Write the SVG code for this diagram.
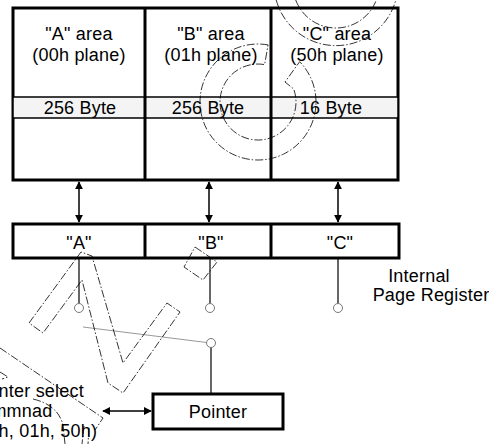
<svg xmlns="http://www.w3.org/2000/svg" width="489" height="444" viewBox="0 0 489 444">
<style>
text{font-family:"Liberation Sans",Arial,Helvetica,sans-serif;font-size:18px;letter-spacing:0.2px;fill:#000}
.c{text-anchor:middle}
.box{fill:#fff;stroke:#000;stroke-width:3}
.thin{stroke:#000;stroke-width:1.2;fill:none}
.arr{stroke:#000;stroke-width:1.5;fill:none;marker-start:url(#ah);marker-end:url(#ah)}
.dot{fill:#fff;stroke:#777;stroke-width:1}
.dash{fill:none;stroke:#000;stroke-width:0.8;stroke-dasharray:8 2 1.5 2}
</style>
<defs>
<marker id="ah" viewBox="0 0 10 10" refX="9" refY="5" markerWidth="8" markerHeight="8" markerUnits="userSpaceOnUse" orient="auto-start-reverse">
<path d="M0,0 L10,5 L0,10 Z" fill="#000"/>
</marker>
</defs>
<rect width="489" height="444" fill="#fff"/>

<g id="memory">
<rect class="box" x="13" y="8" width="385" height="172"/>
<rect x="13" y="97" width="385" height="21" fill="#f4f4f4" stroke="#000" stroke-width="1.5"/>
<line x1="145" y1="8" x2="145" y2="180" stroke="#000" stroke-width="3"/>
<line x1="271" y1="8" x2="271" y2="180" stroke="#000" stroke-width="3"/>
</g>
<g id="areaA">
<text class="c" x="79" y="40">"A" area</text>
<text class="c" x="79" y="61">(00h plane)</text>
<text class="c" x="80" y="114">256 Byte</text>
</g>
<g id="areaB">
<text class="c" x="211" y="40">"B" area</text>
<text class="c" x="211" y="61">(01h plane)</text>
<text class="c" x="208" y="114">256 Byte</text>
</g>
<g id="areaC">
<text class="c" x="337" y="40">"C" area</text>
<text class="c" x="337" y="61">(50h plane)</text>
<text class="c" x="331" y="114">16 Byte</text>
</g>

<g id="register">
<rect class="box" x="13" y="224" width="386" height="34"/>
<line x1="145" y1="224" x2="145" y2="258" stroke="#000" stroke-width="3"/>
<line x1="271" y1="224" x2="271" y2="258" stroke="#000" stroke-width="3"/>
<text class="c" x="79" y="249">"A"</text>
<text class="c" x="211" y="249">"B"</text>
<text class="c" x="340" y="249">"C"</text>
</g>
<g id="register-label">
<text class="c" x="419" y="282">Internal</text>
<text class="c" x="431" y="301">Page Register</text>
</g>

<g id="pointer">
<rect class="box" x="153" y="394" width="130" height="35"/>
<text class="c" x="218" y="418">Pointer</text>
</g>
<g id="command">
<text x="-28" y="397">Pointer select</text>
<text x="-28" y="417">commnad</text>
<text x="-28" y="437">(00h, 01h, 50h)</text>
</g>

<g id="connectors">
<line class="arr" x1="79" y1="182" x2="79" y2="222"/>
<line class="arr" x1="209" y1="182" x2="209" y2="222"/>
<line class="arr" x1="338" y1="182" x2="338" y2="222"/>
<line class="arr" x1="103" y1="411" x2="151" y2="411"/>
<line class="thin" x1="79" y1="258" x2="79" y2="303.5"/>
<line class="thin" x1="210" y1="258" x2="210" y2="303.5"/>
<line class="thin" x1="338" y1="258" x2="338" y2="303.5"/>
<line class="thin" x1="211" y1="394" x2="211" y2="347.5"/>
<line x1="83" y1="327" x2="206.5" y2="342.5" stroke="#999" stroke-width="1"/>
<circle class="dot" cx="79" cy="308" r="4.5"/>
<circle class="dot" cx="210" cy="308" r="4.5"/>
<circle class="dot" cx="338" cy="308" r="4.5"/>
<circle class="dot" cx="211" cy="343" r="4.5"/>
</g>

<g id="overlay">
<path class="dash" d="M268.1,44.9 A58,58 0 1 0 299.7,61.7 L285,82 L293.7,89 A38,38 0 1 1 264.6,64.6 Z"/>
<path class="dash" d="M276.2,0 A62,62 0 0 0 395.8,0"/>
<path class="dash" d="M295.7,0 A43,43 0 0 0 376.3,0"/>
<path class="dash" d="M29,323 L81,252 L92,256 L123,363 L167,303 L180,312 L123,393 L108,383 L82,280 L43,333 Z"/>
<path class="dash" d="M195,247 L217,262 L203,280 L184,267 Z"/>
<path class="dash" d="M0,348 L103,418 L95,430"/>
<path class="dash" d="M33,399 Q58,405 63,425 L65,444"/>
<path class="dash" d="M0,372 L8,377 L2,379"/>
<path class="dash" d="M84,426 L82,444"/>
<path class="dash" d="M89,428 L88,444"/>
</g>
</svg>
